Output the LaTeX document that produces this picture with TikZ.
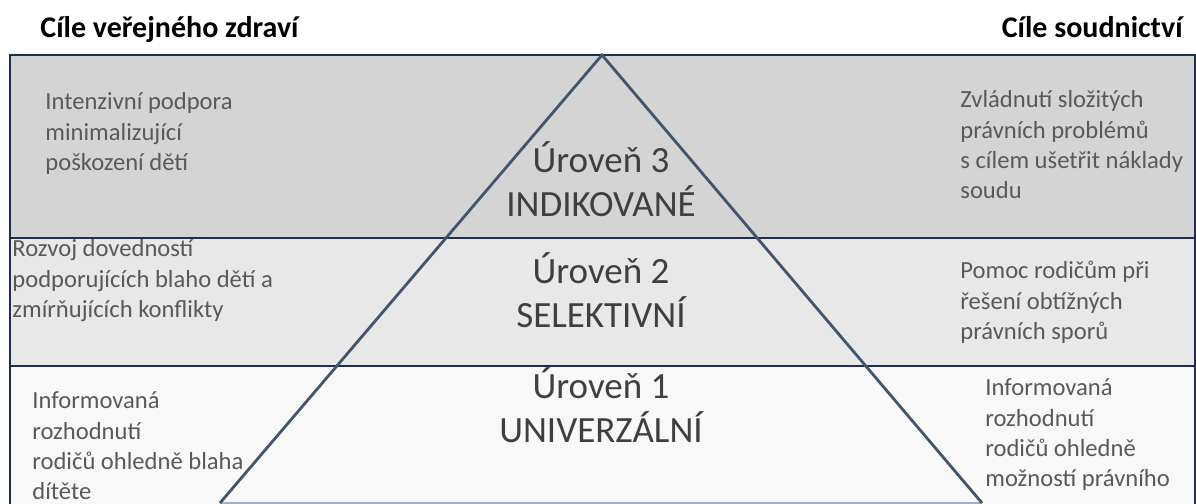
\documentclass[tikz,border=0pt]{standalone}
\usepackage{fontspec}
\setmainfont{Carlito}
\usepackage{xcolor}
\usetikzlibrary{positioning,calc}
\definecolor{frameblue}{HTML}{1F2D50}
\definecolor{pyrblue}{HTML}{44546A}
\definecolor{baseblue}{HTML}{A8AEC2}
\definecolor{bandtop}{HTML}{D4D4D4}
\definecolor{bandmid}{HTML}{E8E8E8}
\definecolor{bandlow}{HTML}{F8F8F8}
\definecolor{bodygray}{HTML}{595959}
\definecolor{levelgray}{HTML}{3F3F3F}

\begin{document}
\begin{tikzpicture}[x=0.5pt, y=-0.5pt,
        goal/.style={anchor=north west, inner sep=0pt, align=left, text=bodygray,
            font=\fontsize{12.3}{15.2}\selectfont},
        level/.style={anchor=north, inner sep=0pt, align=center, text=levelgray,
            font=\fontsize{18.5}{19.5}\selectfont},
        heading/.style={inner sep=0pt, font=\bfseries\fontsize{15}{17}\selectfont}
    ]
        \useasboundingbox (0,0) rectangle (1196,504);
        \fill [bandtop] (10,55) rectangle (1195,238);
        \fill [bandmid] (10,238) rectangle (1195,366);
        \fill [bandlow] (10,366) rectangle (1195,504);
        \draw [frameblue, line width=1.2pt] (10,504) -- (10,55) -- (1195,55) -- (1195,504);
        \draw [frameblue, line width=1pt] (10,238) -- (1195,238);
        \draw [frameblue, line width=1pt] (10,366) -- (1195,366);

        \coordinate (apex) at (602,55);
        \coordinate (baseL) at (220,503);
        \coordinate (baseR) at (982,503);
        \draw [baseblue, line width=0.8pt] (baseL) -- (baseR);
        \draw [pyrblue, line width=1.4pt] (baseL) -- (apex) -- (baseR);

        \node [heading, anchor=base west] (goalsHealth) at (40,37) {Cíle veřejného zdraví};
        \node [heading, anchor=base east] (goalsJustice) at (1183,37) {Cíle soudnictví};

        \node [level] (lvl3) at (601,141) {\strut Úroveň 3\\INDIKOVANÉ};
        \node [level] (lvl2) at (601,252) {\strut Úroveň 2\\SELEKTIVNÍ};
        \node [level] (lvl1) at (601,367) {\strut Úroveň 1\\UNIVERZÁLNÍ};

        \node [goal] (health3) at (45,88) {\strut Intenzivní podpora\\minimalizující\\poškození dětí};
        \node [goal] (justice3) at (960,86) {\strut Zvládnutí složitých\\právních problémů\\s cílem ušetřit náklady\\soudu};
        \node [goal] (health2) at (12,235) {\strut Rozvoj dovedností\\podporujících blaho dětí a\\zmírňujících konflikty};
        \node [goal] (justice2) at (960,257) {\strut Pomoc rodičům při\\řešení obtížných\\právních sporů};
        \node [goal] (health1) at (32,387) {\strut Informovaná\\rozhodnutí\\rodičů ohledně blaha\\dítěte};
        \node [goal] (justice1) at (985,374) {\strut Informovaná\\rozhodnutí\\rodičů ohledně\\možností právního};
    \end{tikzpicture}
\end{document}
